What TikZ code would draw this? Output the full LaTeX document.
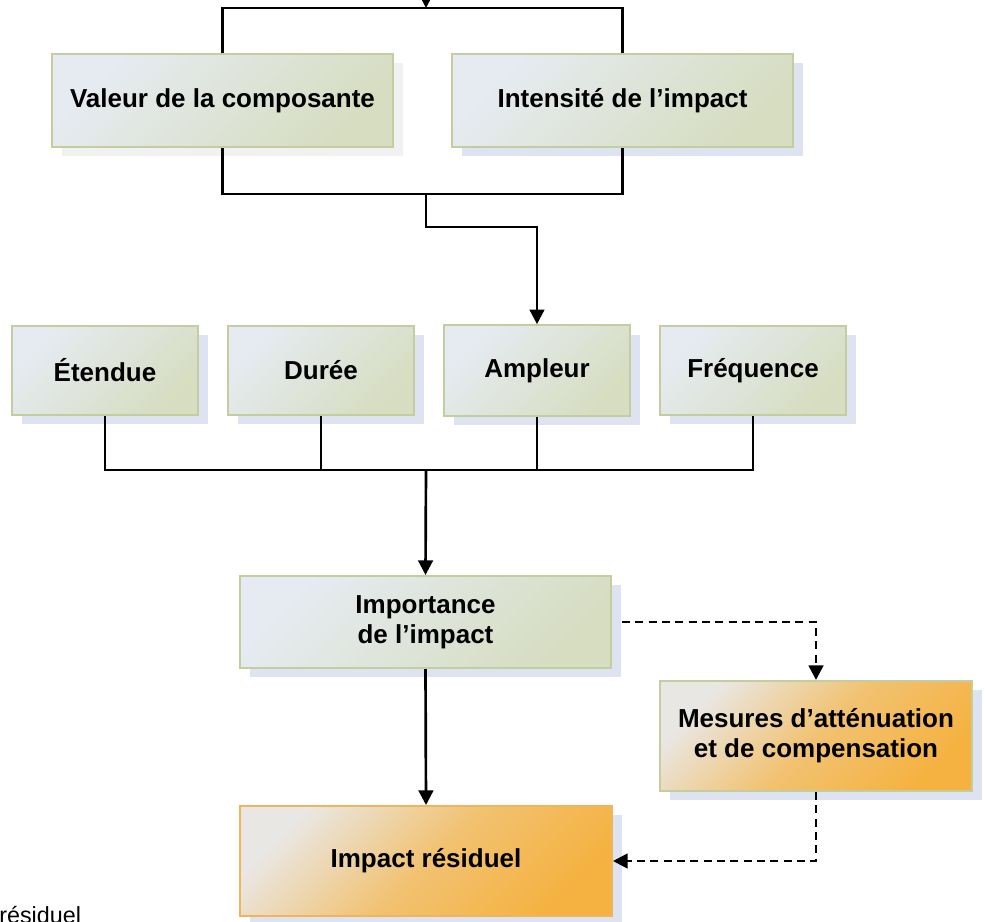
\documentclass[tikz,border=0pt]{standalone}
\usepackage{fontspec}
\setmainfont{Liberation Sans}
\setsansfont{Liberation Sans}
\usepackage{tikz}
\usetikzlibrary{arrows.meta,shadows,calc}
\usepackage{xcolor}
\definecolor{sagelight}{HTML}{E6EBF2}
\definecolor{sagedark}{HTML}{D6DDC0}
\definecolor{sageborder}{HTML}{C3CDA0}
\definecolor{amberlight}{HTML}{E9E7E4}
\definecolor{amberdark}{HTML}{F5B241}
\definecolor{amberborder}{HTML}{F0B55A}
\definecolor{shadowblue}{HTML}{DDE3F0}
\definecolor{shadowgrey}{HTML}{F1F1F1}

\begin{document}
\begin{tikzpicture}[
  x=0.75pt, y=-0.75pt,
  font=\sffamily\bfseries,
  >={Triangle[length=11pt,width=11pt]},
  sagebox/.style={
    draw=sageborder,
    line width=1.5pt,
    top color=sagelight,
    bottom color=sagedark,
    shading angle=45,
    inner sep=0pt,
    align=center,
    font=\sffamily\bfseries\fontsize{19.5}{22.5}\selectfont,
    drop shadow={shadow xshift=7.5pt, shadow yshift=-7pt, fill=shadowblue, opacity=1}
  },
  amberbox/.style={
    sagebox,
    draw=amberborder,
    top color=amberlight,
    bottom color=amberdark,
    middle color=amberdark!70!amberlight,
    shading angle=45
  },
  link/.style={
    line width=2pt,
    draw=black
  },
  flow/.style={
    ->,
    line width=2pt,
    draw=black
  },
  dashflow/.style={
    ->,
    line width=2pt,
    dash pattern=on 6pt off 4pt,
    draw=black
  }
]
  \useasboundingbox (0,0) rectangle (985,921);

  % =========================================================================
  % ROW 1: VALEUR / INTENSITE
  % =========================================================================
  \coordinate (topin) at (426,-20);
  \coordinate (topjoin) at (426,8);
  \coordinate (botjoin) at (426,194);

  \node[sagebox, minimum width=255.75pt, minimum height=69.75pt,
    drop shadow={shadow xshift=7.5pt, shadow yshift=-7pt, fill=shadowgrey, opacity=1}]
    (valeur) at (222.5,100.5) {Valeur de la composante};
  \node[sagebox, minimum width=255.75pt, minimum height=69.75pt]
    (intensite) at (622.5,100.5) {Intensité de l’impact};

  \draw[flow] (topin) -- (topjoin);
  \draw[link] (valeur.north) -- (valeur.north |- topjoin)
    -- (intensite.north |- topjoin) -- (intensite.north);
  \draw[link] (valeur.south) -- (valeur.south |- botjoin)
    -- (intensite.south |- botjoin) -- (intensite.south);

  % =========================================================================
  % ROW 2: CRITERES
  % =========================================================================
  \node[sagebox, minimum width=139.5pt, minimum height=66.75pt] (etendue) at (105,370) {Étendue};
  \node[sagebox, minimum width=139.5pt, minimum height=66.75pt] (duree) at (321,370) {Durée};
  \node[sagebox, minimum width=139.5pt, minimum height=68pt] (ampleur) at (537,370.5) {Ampleur};
  \node[sagebox, minimum width=139.5pt, minimum height=66.75pt] (frequence) at (753,370.5) {Fréquence};

  \draw[flow] (botjoin) -- ++(0,33) -| (ampleur.north);

  \coordinate (bus) at (426,470);
  \draw[link] (etendue.south) -- (etendue.south |- bus)
    -- (frequence.south |- bus) -- (frequence.south);
  \draw[link] (duree.south) -- (duree.south |- bus);
  \draw[link] (ampleur.south) -- (ampleur.south |- bus);

  % =========================================================================
  % ROW 3: IMPORTANCE / MESURES / IMPACT RESIDUEL
  % =========================================================================
  \node[sagebox, minimum width=278.25pt, minimum height=69pt] (importance) at (425.5,622)
    {Importance\\de l’impact};
  \node[amberbox, draw=sageborder, minimum width=234pt, minimum height=82.5pt] (mesures) at (816,736)
    {Mesures d’atténuation\\et de compensation};
  \node[amberbox, minimum width=279pt, minimum height=82.5pt] (impact) at (426,861)
    {Impact résiduel};

  \draw[flow] (bus) -- (importance.north);
  \draw[flow] (importance.south) -- (impact.north);
  \draw[dashflow] ([xshift=7.5pt]importance.east) -| (mesures.north);
  \draw[dashflow] (mesures.south) |- (impact.east);

  % stray label cut by the page edge
  \node[font=\sffamily\fontsize{17.5}{19}\selectfont, anchor=base west, inner sep=0pt]
    (stray) at (-1,923) {résiduel};

\end{tikzpicture}
\end{document}
